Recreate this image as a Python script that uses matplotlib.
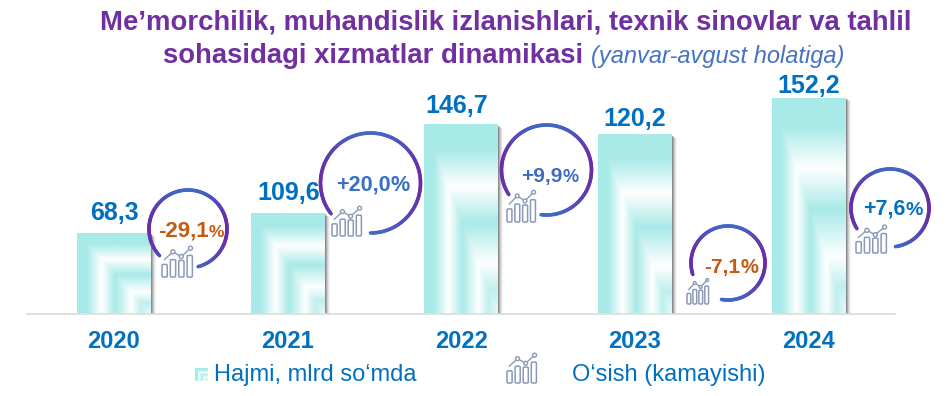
import numpy as np
import matplotlib
matplotlib.use("Agg")
import matplotlib.pyplot as plt
import matplotlib.patheffects as pe
from matplotlib.collections import LineCollection
from matplotlib.colors import to_rgb
from matplotlib.patches import FancyBboxPatch, Circle

plt.rcParams['font.family'] = ['Liberation Sans', 'DejaVu Sans']

# chart data
years = ['2020', '2021', '2022', '2023', '2024']
value_labels = ['68,3', '109,6', '146,7', '120,2', '152,2']
# the source bars do not follow their labels, so heights are read off the picture
bar_heights = [56.4, 70.5, 133.2, 126.1, 152.2]
growth_labels = ['-29,1', '+20,0', '+9,9', '-7,1', '+7,6']

# colours
BLUE = '#0070C0'
PURPLE = '#7030A0'
TEAL = np.array(to_rgb('#A8EAE8'))
growth_colors = ['#C55A11', '#3A6FC4', '#3F6CC0', '#C55A11', '#0070C0']

# layout in pixels (x, y from the top left corner), text y is the baseline
W, H = 950, 396
value_label_x = [114, 289, 457, 635, 809]
value_label_y = [220, 200, 113, 126, 93]
ring_centers = [(188, 229), (370.5, 183), (546.5, 170), (728, 263), (890, 208)]
ring_radii = [39, 50, 45, 37, 39]
ring_starts = [-75, -90, -97, -100, -82]
ring_ends = [223, 218, 213, 198, 212]
growth_x = [158, 336, 521, 704, 863]
growth_y = [237, 191, 182, 273, 215]
growth_sizes = [16, 15.6, 15, 15, 15.5]
pct_sizes = [12.5, 15.6, 13, 14.5, 14]
icon_boxes = [(162, 247, 31, 30), (332, 207, 30, 29), (507, 191, 29, 31),
              (687, 279, 22, 25), (856, 226, 31, 27)]


def bar_texture(n_rows, n_cols):
    # nested L shaped bands, teal to white
    v, u = np.mgrid[0:1:n_rows * 1j, 0:1:n_cols * 1j]
    d = np.minimum(u, v)
    mix = np.interp(d, [0, .13, .33, .52, .74, .88, 1], [0, 0, 1, 0, 1, .25, .7])
    return TEAL + (1 - TEAL) * mix[..., None]


def draw_ring(ax, center, radius, start, end):
    angles = np.radians(np.linspace(start, end, 120))
    xs = center[0] + radius * np.cos(angles)
    ys = center[1] - radius * np.sin(angles)
    pts = np.column_stack([xs, ys])
    segs = np.stack([pts[:-1], pts[1:]], axis=1)
    # blue on top and bottom, purple at the sides
    c1, c2 = np.array(to_rgb('#4268C6')), np.array(to_rgb('#6A2CA6'))
    mix = np.abs(np.cos(angles[:-1]))[:, None] ** 2
    ax.add_collection(LineCollection(segs, colors=c1 + (c2 - c1) * mix, linewidth=2.6,
                                     capstyle='round', zorder=5))


def draw_icon(ax, x, y, w, h, color='#8A99B8'):
    # small bar and line pictogram
    bar_w = w * .17
    for i, frac in enumerate([.42, .58, .55, .72]):
        left = x + i * w * .27
        ax.add_patch(FancyBboxPatch((left, y + h * (1 - frac)), bar_w, h * frac,
                                    boxstyle='round,pad=0,rounding_size=1.2', fc='white',
                                    ec=color, lw=1.1, zorder=6))
    lx = x + w * np.array([.08, .35, .62, .92])
    ly = y + h * np.array([.42, .16, .32, .04])
    ax.plot(lx, ly, color=color, lw=1, zorder=6)
    for px, py in zip(lx[1:], ly[1:]):
        ax.add_patch(Circle((px, py), w * .065, fc='white', ec=color, lw=1, zorder=7))


def text_after(ax, first, y, s, **kw):
    # next piece of text on the same baseline, right after the first one
    bb = first.get_window_extent(fig.canvas.get_renderer())
    return ax.text(bb.x1, y, s, ha='left', va='baseline', **kw)


fig = plt.figure(figsize=(W / 100, H / 100), dpi=100, facecolor='white')

# bars, positioned so one category step is the bar spacing of the reference
base_px, top_px = 313.5, 98
ax = fig.add_axes([27 / W, 1 - base_px / H, 868 / W, (base_px - top_px) / H])
x_pos = np.arange(len(years))
bar_w = 0.426
bars = ax.bar(x_pos, bar_heights, bar_w, color='white', zorder=2)
shadow = []
for d, a in [(5, .05), (4, .08), (3, .13), (2, .2), (1, .28)]:
    shadow.append(pe.SimplePatchShadow(offset=(d * .72, -d * .5), shadow_rgbFace='#303030', alpha=a))
for b in bars:
    b.set_path_effects(shadow + [pe.Normal()])
for x, h in zip(x_pos, bar_heights):
    ax.imshow(bar_texture(120, 60), extent=(x - bar_w / 2, x + bar_w / 2, 0, h),
              aspect='auto', origin='upper', zorder=3, interpolation='bilinear')
ax.set_xlim(-.5, 4.497)
ax.set_ylim(0, 152.2)
ax.set_xticks(x_pos, years, fontsize=17, fontweight='bold', color=BLUE)
ax.tick_params(axis='x', length=0, pad=12)
ax.set_yticks([])
for s in ['top', 'left', 'right']:
    ax.spines[s].set_visible(False)
ax.spines['bottom'].set_color('#DADADA')
ax.spines['bottom'].set_linewidth(1.2)
ax.patch.set_alpha(0)

# overlay in pixel coordinates for the annotations
pax = fig.add_axes([0, 0, 1, 1], facecolor='none')
pax.axis('off')
pax.set_xlim(0, W)
pax.set_ylim(H, 0)
pax.set_autoscale_on(False)

for lbl, px, py in zip(value_labels, value_label_x, value_label_y):
    pax.text(px, py, lbl, fontsize=18, fontweight='bold', color=BLUE, ha='center', va='baseline')

for i in range(len(years)):
    draw_ring(pax, ring_centers[i], ring_radii[i], ring_starts[i], ring_ends[i])
    draw_icon(pax, *icon_boxes[i])
    t = pax.text(growth_x[i], growth_y[i], growth_labels[i], fontsize=growth_sizes[i],
                 fontweight='bold', color=growth_colors[i], ha='left', va='baseline', zorder=8)
    text_after(pax, t, growth_y[i], '%', fontsize=pct_sizes[i], fontweight='bold',
               color=growth_colors[i], zorder=8)

# title
pax.text(100, 29, 'Me\u2019morchilik, muhandislik izlanishlari, texnik sinovlar va tahlil',
         fontsize=19.85, fontweight='bold', color=PURPLE, ha='left', va='baseline')
t2 = pax.text(163, 63, 'sohasidagi xizmatlar dinamikasi ', fontsize=19.85, fontweight='bold',
              color=PURPLE, ha='left', va='baseline')
text_after(pax, t2, 63, '(yanvar-avgust holatiga)', fontsize=17, style='italic', color='#4472C4')

# legend
pax.imshow(bar_texture(14, 14), extent=(195, 208, 381, 368), aspect='auto', origin='upper', zorder=3)
pax.text(214, 381.5, 'Hajmi, mlrd so\u2018mda', fontsize=17, color=BLUE, ha='left', va='baseline')
draw_icon(pax, 507, 354, 30, 29)
pax.text(572, 381.5, 'O\u2018sish (kamayishi)', fontsize=17, color=BLUE, ha='left', va='baseline')

fig.savefig('out.png', dpi=100, facecolor='white')
